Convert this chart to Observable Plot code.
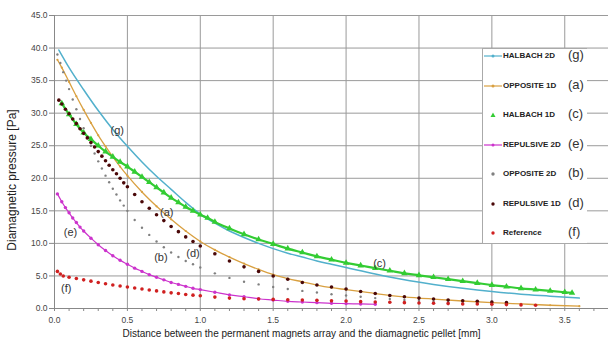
<!DOCTYPE html>
<html><head><meta charset="utf-8">
<script src="https://cdn.jsdelivr.net/npm/d3@7"></script>
<script src="https://cdn.jsdelivr.net/npm/@observablehq/plot@0.6"></script>
<style>
body{margin:0;background:#fff;font-family:"Liberation Sans",Arial,sans-serif;}
#wrap{position:relative;width:608px;height:346px;overflow:hidden;}
#legend{position:absolute;left:482px;top:48px;width:104px;height:194px;background:#fff;border:1px solid #aaa;border-right:none;}
.item{position:absolute;left:0;width:104px;height:16px;}
.item svg{position:absolute;left:1px;top:0;}
.item .nm{position:absolute;left:20px;top:2px;font-size:8px;font-weight:bold;color:#222;white-space:nowrap;}
.item .lt{position:absolute;left:85px;top:-2px;font-size:13px;color:#333;}
</style></head>
<body><div id="wrap"><div id="chart"></div><div id="legend"></div></div>
<script>
// ---- data ----
const seriesNames = ["HALBACH 2D","OPPOSITE 1D","HALBACH 1D","REPULSIVE 2D","OPPOSITE 2D","REPULSIVE 1D","Reference"];
const seriesLetters = ["(g)","(a)","(c)","(e)","(b)","(d)","(f)"];

const gX = [0.03,0.1,0.2,0.3,0.4,0.5,0.6,0.7,0.8,0.9,1.0,1.1,1.2,1.3,1.4,1.5,1.6,1.7,1.8,1.9,2.0,2.2,2.4,2.6,2.8,3.0,3.2,3.4,3.6];
const gY = [39.7,37.0,33.6,30.4,27.5,24.9,22.5,20.3,18.3,16.3,14.5,13.1,11.9,10.9,10.0,9.2,8.5,7.9,7.3,6.8,6.3,5.3,4.4,3.7,3.1,2.6,2.2,1.9,1.6];

const aX = [0.02,0.05,0.1,0.15,0.2,0.25,0.3,0.35,0.4,0.45,0.5,0.6,0.7,0.8,0.9,1.0,1.1,1.2,1.3,1.4,1.5,1.6,1.7,1.8,1.9,2.0,2.2,2.4,2.6,2.8,3.0,3.2,3.4,3.6];
const aY = [38.2,37.0,34.8,32.6,30.5,28.5,26.6,24.9,23.3,21.8,20.4,17.9,15.7,13.7,11.9,10.3,9.0,7.9,6.9,6.0,5.2,4.6,4.1,3.6,3.2,2.9,2.3,1.8,1.45,1.15,0.9,0.7,0.5,0.35];

const cX = [0.05,0.1,0.15,0.2,0.25,0.3,0.35,0.4,0.45,0.5,0.55,0.6,0.65,0.7,0.75,0.8,0.85,0.9,0.95,1.0,1.05,1.1,1.2,1.3,1.4,1.5,1.6,1.7,1.8,1.9,2.0,2.1,2.2,2.3,2.4,2.5,2.6,2.7,2.8,2.9,3.0,3.1,3.2,3.3,3.4,3.5,3.55];
const cY = [31.5,29.8,28.3,27.0,26.0,25.0,24.1,23.3,22.5,21.8,21.0,20.2,19.4,18.6,17.8,17.0,16.3,15.6,15.0,14.4,13.9,13.3,12.3,11.4,10.6,9.9,9.2,8.6,8.0,7.5,7.0,6.6,6.2,5.8,5.4,5.1,4.8,4.5,4.2,3.9,3.6,3.35,3.1,2.9,2.7,2.5,2.4];

const eX = [0.02,0.05,0.075,0.1,0.125,0.15,0.175,0.2,0.25,0.3,0.35,0.4,0.45,0.5,0.55,0.6,0.65,0.7,0.75,0.8,0.85,0.9,0.95,1.0,1.1,1.2,1.3,1.4,1.5,1.6,1.7,1.8,1.9,2.0,2.1,2.2];
const eY = [17.6,16.4,15.5,14.7,13.9,13.2,12.5,11.9,10.8,9.8,8.9,8.1,7.4,6.8,6.2,5.7,5.2,4.8,4.4,4.0,3.7,3.4,3.1,2.9,2.5,2.1,1.8,1.5,1.3,1.1,1.0,0.9,0.8,0.75,0.7,0.65];

const bX = [0.02,0.04,0.06,0.08,0.1,0.125,0.15,0.175,0.2,0.225,0.25,0.275,0.3,0.325,0.35,0.375,0.4,0.425,0.45,0.475,0.5,0.55,0.6,0.65,0.7,0.75,0.8,0.85,0.9,0.95,1.0,1.1,1.2,1.3,1.4,1.5,1.6,1.7,1.8,1.9,2.0,2.1,2.2,2.3,2.4,2.5,2.6,2.7,2.8];
const bY = [39.0,37.7,36.3,35.0,33.7,32.1,30.6,29.1,27.7,26.3,25.0,23.8,22.6,21.5,20.4,19.4,18.4,17.5,16.6,15.8,15.0,13.6,12.4,11.3,10.3,9.4,8.6,7.9,7.3,6.8,6.3,5.4,4.7,4.1,3.7,3.3,3.0,2.7,2.45,2.2,2.0,1.8,1.6,1.45,1.3,1.2,1.05,0.95,0.85];

const dX = [0.03,0.05,0.075,0.1,0.125,0.15,0.175,0.2,0.225,0.25,0.275,0.3,0.325,0.35,0.375,0.4,0.425,0.45,0.475,0.5,0.55,0.6,0.65,0.7,0.75,0.8,0.85,0.9,0.95,1.0,1.1,1.2,1.3,1.4,1.5,1.6,1.7,1.8,1.9,2.0,2.1,2.2,2.3,2.4,2.5,2.6,2.7,2.8,2.9,3.0,3.1];
const dY = [32.0,31.4,30.6,29.9,29.1,28.4,27.6,26.9,26.2,25.5,24.8,24.1,23.4,22.7,22.0,21.3,20.7,20.0,19.3,18.7,17.5,16.4,15.4,14.4,13.5,12.6,11.8,11.0,10.3,9.6,8.4,7.3,6.4,5.7,5.0,4.5,4.0,3.6,3.3,3.0,2.6,2.3,2.0,1.8,1.6,1.45,1.3,1.2,1.1,1.0,0.9];

const fX = [0.02,0.04,0.06,0.1,0.15,0.2,0.25,0.3,0.35,0.4,0.45,0.5,0.55,0.6,0.65,0.7,0.75,0.8,0.85,0.9,0.95,1.0,1.1,1.2,1.3,1.4,1.5,1.6,1.7,1.8,1.9,2.0,2.1,2.2,2.3,2.4,2.5,2.6,2.7,2.8,2.9,3.0,3.1,3.2,3.3];
const fY = [5.7,5.3,5.0,4.8,4.6,4.4,4.2,4.0,3.8,3.6,3.45,3.3,3.15,3.0,2.85,2.7,2.55,2.4,2.3,2.15,2.05,1.95,1.75,1.6,1.5,1.45,1.4,1.35,1.3,1.25,1.2,1.15,1.05,1.0,0.95,0.9,0.85,0.8,0.75,0.7,0.7,0.65,0.6,0.55,0.5];

const xTicks = [0,0.5,1.0,1.5,2.0,2.5,3.0,3.5];
const xMinor = [0.1,0.2,0.3,0.4,0.6,0.7,0.8,0.9,1.1,1.2,1.3,1.4,1.6,1.7,1.8,1.9,2.1,2.2,2.3,2.4,2.6,2.7,2.8,2.9,3.1,3.2,3.3,3.4,3.6,3.7];
const yTicks = [0,5,10,15,20,25,30,35,40,45];

const annLabels = ["(g)","(a)","(b)","(d)","(c)","(e)","(f)"];
const annX = [0.43,0.77,0.73,0.95,2.23,0.11,0.08];
const annY = [27.4,14.8,7.9,8.4,6.9,11.7,3.0];

const xLabel = "Distance between the permanent magnets array and the diamagnetic pellet [mm]";
const yLabel = "Diamagnetic pressure [Pa]";

// ---- build ----
const colors = ["#52b0cc","#d9a040","#33cc33","#cc33cc","#808080","#4a0808","#d02020"];
const zip = (xs, ys) => xs.map((x, i) => ({x, y: ys[i]}));
const g = zip(gX, gY), a = zip(aX, aY), c = zip(cX, cY), e = zip(eX, eY),
      b = zip(bX, bY), d = zip(dX, dY), f = zip(fX, fY);
const ann = annLabels.map((t, i) => ({t, x: annX[i], y: annY[i]}));
const fmt = d3.format(".1f");

const chart = Plot.plot({
  width: 608, height: 346,
  marginLeft: 54, marginRight: 0, marginTop: 15, marginBottom: 38,
  style: {fontFamily: "Liberation Sans, Arial, sans-serif", background: "#fff"},
  x: {domain: [0, 3.8]},
  y: {domain: [0, 45]},
  marks: [
    Plot.gridX(xTicks, {stroke: "#9a9a9a", strokeOpacity: 1, strokeWidth: 1}),
    Plot.gridY(yTicks, {stroke: "#9a9a9a", strokeOpacity: 1, strokeWidth: 1}),
    Plot.ruleX([0], {stroke: "#888"}),
    Plot.ruleY([0], {stroke: "#888"}),
    Plot.axisY(yTicks, {tickFormat: fmt, tickSize: 5, tickPadding: 2, fontSize: 8.5, stroke: "#888", color: "#444", label: null}),
    Plot.text([yLabel], {frameAnchor: "left", textAnchor: "middle", lineAnchor: "middle", rotate: -90, dx: -42, dy: 18, fontSize: 12, fill: "#222"}),
    Plot.axisX(xMinor, {tickSize: 3, tickFormat: () => "", stroke: "#888", label: null}),
    Plot.axisX(xTicks, {tickFormat: fmt, tickSize: 3, tickPadding: 5, fontSize: 8.5, stroke: "#888", color: "#444", label: null}),
    Plot.text([xLabel], {frameAnchor: "bottom", dx: -30, dy: 28, fontSize: 10, fill: "#222"}),
    Plot.line(g, {x: "x", y: "y", stroke: colors[0], strokeWidth: 1.5, curve: "monotone-x"}),
    Plot.line(a, {x: "x", y: "y", stroke: colors[1], strokeWidth: 1.3, curve: "monotone-x"}),
    Plot.dot(a, {x: "x", y: "y", r: 1.1, fill: colors[1]}),
    Plot.line(c, {x: "x", y: "y", stroke: colors[2], strokeWidth: 2.2, curve: "monotone-x"}),
    Plot.dot(c, {x: "x", y: "y", r: 2.4, symbol: "triangle", fill: colors[2]}),
    Plot.line(e, {x: "x", y: "y", stroke: colors[3], strokeWidth: 1.2, curve: "monotone-x"}),
    Plot.dot(e, {x: "x", y: "y", r: 1.7, fill: colors[3]}),
    Plot.dot(b, {x: "x", y: "y", r: 1.2, fill: colors[4]}),
    Plot.dot(d, {x: "x", y: "y", r: 1.8, fill: colors[5]}),
    Plot.dot(f, {x: "x", y: "y", r: 1.8, fill: colors[6]}),
    Plot.text(ann, {x: "x", y: "y", text: "t", fontSize: 11, fill: "#333"})
  ]
});
document.getElementById("chart").appendChild(chart);

// legend
const kinds = ["line","line","tri","line","dot","dot","dot"];
const leg = document.getElementById("legend");
seriesNames.forEach((nm, i) => {
  const it = document.createElement("div");
  it.className = "item";
  it.style.top = (0 + i * 29.5) + "px";
  const col = colors[i];
  let sym = "";
  if (kinds[i] === "line") sym = `<line x1="0" x2="18" y1="7" y2="7" stroke="${col}" stroke-width="1.2"/><circle cx="9" cy="7" r="1.5" fill="${col}"/>`;
  else if (kinds[i] === "tri") sym = `<path d="M9,4.5 L11.5,9 L6.5,9 Z" fill="${col}"/>`;
  else sym = `<circle cx="9" cy="7" r="1.7" fill="${col}"/>`;
  it.innerHTML = `<svg width="19" height="14">${sym}</svg><span class="nm">${nm}</span><span class="lt">${seriesLetters[i]}</span>`;
  leg.appendChild(it);
});
</script></body></html>
